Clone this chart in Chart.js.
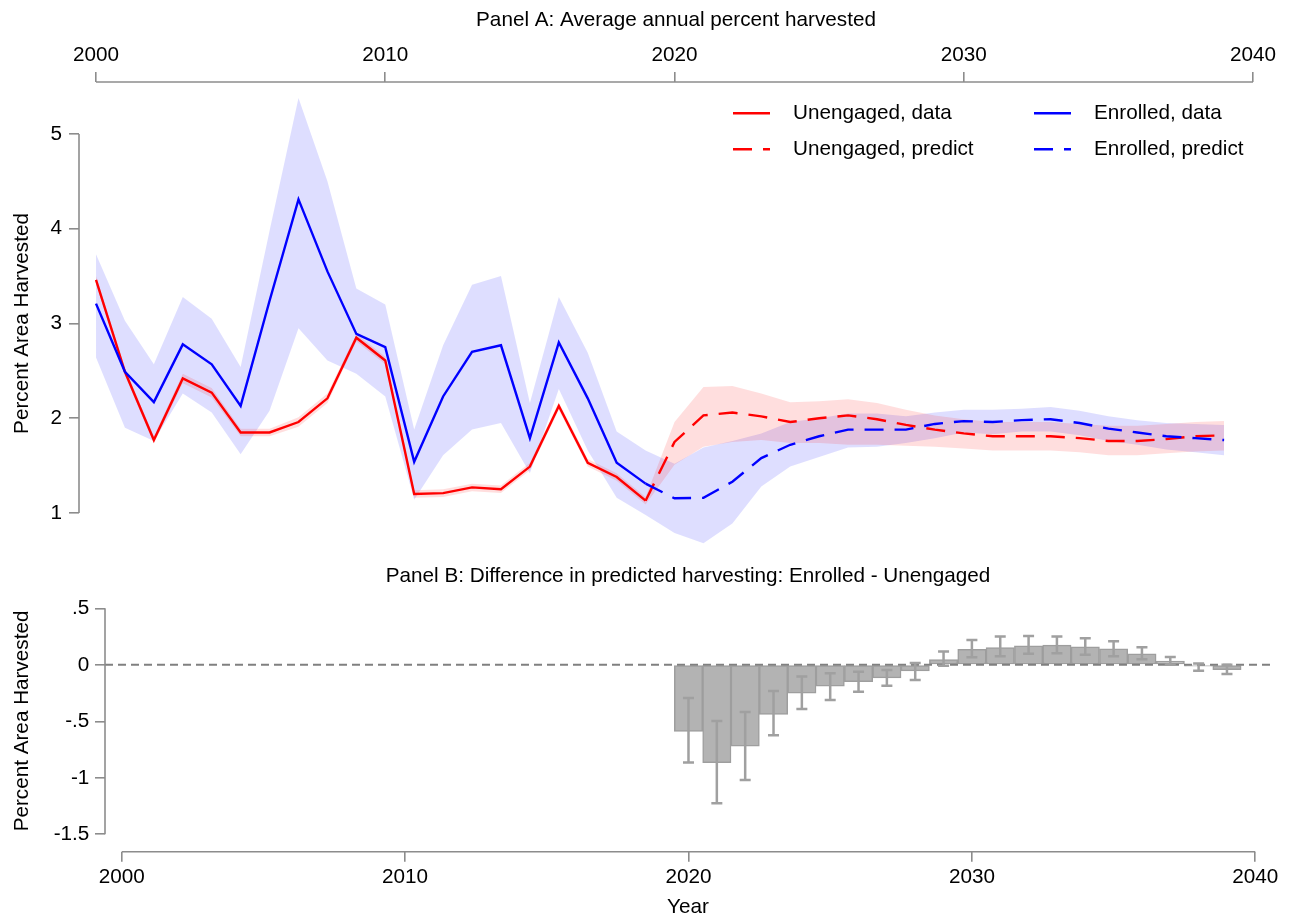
<!DOCTYPE html>
<html>
<head>
<meta charset="utf-8">
<title>Percent area harvested: enrolled vs unengaged</title>
<script src="https://cdn.jsdelivr.net/npm/chart.js@4.4.1/dist/chart.umd.min.js"></script>
<style>
  html, body { margin: 0; padding: 0; background: #fff; overflow: hidden; }
  #wrap { position: relative; width: 1291px; height: 921px; }
  #panelA { position: absolute; left: 0; top: 0; }
  #panelB { position: absolute; left: 0; top: 555px; }
</style>
</head>
<body>
<div id="wrap">
  <canvas id="panelA" width="1291" height="565"></canvas>
  <canvas id="panelB" width="1291" height="366"></canvas>
</div>
<script>
// ---------------- data ----------------
const dataYears = [2000, 2001, 2002, 2003, 2004, 2005, 2006, 2007, 2008, 2009,
                   2010, 2011, 2012, 2013, 2014, 2015, 2016, 2017, 2018, 2019];
const predYears = [2019, 2020, 2021, 2022, 2023, 2024, 2025, 2026, 2027, 2028, 2029,
                   2030, 2031, 2032, 2033, 2034, 2035, 2036, 2037, 2038, 2039];
const bandYears = [2000, 2001, 2002, 2003, 2004, 2005, 2006, 2007, 2008, 2009,
                   2010, 2011, 2012, 2013, 2014, 2015, 2016, 2017, 2018, 2019,
                   2020, 2021, 2022, 2023, 2024, 2025, 2026, 2027, 2028, 2029,
                   2030, 2031, 2032, 2033, 2034, 2035, 2036, 2037, 2038, 2039];
const diffYears = [2020, 2021, 2022, 2023, 2024, 2025, 2026, 2027, 2028, 2029,
                   2030, 2031, 2032, 2033, 2034, 2035, 2036, 2037, 2038, 2039];

// Panel A: observed series
const unengagedData = [3.46, 2.49, 1.77, 2.42, 2.27, 1.85, 1.85, 1.96, 2.21, 2.85,
                       2.61, 1.20, 1.21, 1.27, 1.25, 1.49, 2.13, 1.53, 1.38, 1.13];
const enrolledData  = [3.21, 2.49, 2.17, 2.78, 2.57, 2.13, 3.24, 4.31, 3.55, 2.89,
                       2.75, 1.54, 2.23, 2.70, 2.77, 1.79, 2.80, 2.21, 1.53, 1.31];

// Panel A: predicted series
const unengagedPredict = [1.13, 1.75, 2.03, 2.06, 2.02, 1.96, 2.00, 2.03, 1.99, 1.93, 1.88,
                          1.84, 1.81, 1.81, 1.81, 1.79, 1.76, 1.76, 1.78, 1.81, 1.82];
const enrolledPredict  = [1.31, 1.155, 1.16, 1.33, 1.58, 1.72, 1.81, 1.88, 1.88, 1.88, 1.94,
                          1.97, 1.96, 1.98, 1.99, 1.95, 1.89, 1.85, 1.81, 1.79, 1.77];

// Panel A: confidence bands
const enrolledUpper  = [3.73, 3.03, 2.57, 3.28, 3.05, 2.54, 3.98, 5.38, 4.50, 3.37,
                        3.20, 1.88, 2.77, 3.41, 3.50, 2.16, 3.28, 2.69, 1.86, 1.66,
                        1.52, 1.69, 1.76, 1.84, 1.96, 2.00, 2.05, 2.05, 2.02, 2.06,
                        2.09, 2.09, 2.10, 2.12, 2.08, 2.02, 1.98, 1.95, 1.94, 1.93];
const enrolledLower  = [2.64, 1.90, 1.76, 2.26, 2.06, 1.62, 2.08, 2.95, 2.61, 2.47,
                        2.23, 1.14, 1.61, 1.88, 1.95, 1.42, 2.31, 1.66, 1.16, 0.98,
                        0.79, 0.68, 0.89, 1.28, 1.49, 1.59, 1.69, 1.70, 1.74, 1.79,
                        1.85, 1.83, 1.86, 1.86, 1.82, 1.76, 1.72, 1.67, 1.64, 1.61];
const unengagedUpper = [3.50, 2.53, 1.81, 2.47, 2.32, 1.89, 1.89, 2.01, 2.26, 2.89,
                        2.65, 1.24, 1.25, 1.31, 1.29, 1.53, 2.17, 1.57, 1.42, 1.17,
                        1.96, 2.33, 2.34, 2.26, 2.17, 2.18, 2.20, 2.16, 2.09, 2.03,
                        1.99, 1.96, 1.96, 1.96, 1.94, 1.92, 1.92, 1.94, 1.96, 1.97];
const unengagedLower = [3.42, 2.45, 1.73, 2.37, 2.22, 1.81, 1.81, 1.91, 2.16, 2.81,
                        2.57, 1.16, 1.17, 1.23, 1.21, 1.45, 2.09, 1.49, 1.34, 1.09,
                        1.51, 1.70, 1.75, 1.77, 1.74, 1.74, 1.72, 1.72, 1.71, 1.70,
                        1.68, 1.66, 1.66, 1.66, 1.64, 1.61, 1.61, 1.63, 1.65, 1.66];

// Panel B: difference (Enrolled - Unengaged) with interval
const diffValue = [-0.59, -0.865, -0.72, -0.44, -0.25, -0.19, -0.15, -0.115, -0.053, 0.047,
                   0.138, 0.153, 0.168, 0.174, 0.159, 0.141, 0.097, 0.032, -0.012, -0.044];
const diffLow   = [-0.865, -1.226, -1.02, -0.624, -0.391, -0.312, -0.238, -0.185, -0.135, -0.009,
                   0.068, 0.076, 0.097, 0.103, 0.088, 0.076, 0.050, 0.000, -0.053, -0.082];
const diffHigh  = [-0.294, -0.497, -0.418, -0.232, -0.103, -0.074, -0.062, -0.047, 0.015, 0.118,
                   0.220, 0.250, 0.256, 0.250, 0.235, 0.209, 0.156, 0.070, 0.012, 0.000];

// Tick labels
const yearTicks   = [2000, 2010, 2020, 2030, 2040];
const panelATicks = [1, 2, 3, 4, 5];
const panelBTicks = [0.5, 0, -0.5, -1, -1.5];

// ---------------- styling ----------------
const FONT = { family: "'Liberation Sans', Arial, Helvetica, sans-serif", size: 20.7 };
const TEXT = '#000';
const AXIS_GRAY = '#8c8c8c';
const RED = '#ff0000';
const BLUE = '#0000ff';
const DASH = [19, 11];

Chart.defaults.font.family = FONT.family;
Chart.defaults.font.size = FONT.size;
Chart.defaults.color = TEXT;
Chart.defaults.animation = false;

const pts = (xs, ys) => xs.map((x, i) => ({ x, y: ys[i] }));
const fixedTicks = values => scale => { scale.ticks = values.map(v => ({ value: v })); };
const stataNum = v => String(v).replace(/^(-?)0\./, '$1.');

// Fixed axis box size; tick labels sit well inside the plot range, so no extra edge padding
const fitBox = (prop, size) => s => {
  s[prop] = size;
  s.paddingTop = 0; s.paddingBottom = 0;
  s.paddingLeft = 0; s.paddingRight = 0;
};

function axisOpts(extra) {
  return Object.assign({
    type: 'linear',
    border: { display: false },
    grid: { offset: false, drawOnChartArea: false, drawTicks: true, tickLength: 10, color: AXIS_GRAY, lineWidth: 1.6 },
  }, extra);
}

// Axis lines that only span the labelled range (first to last tick)
const rangeAxes = {
  id: 'rangeAxes',
  afterDraw(chart) {
    const { ctx, chartArea: a } = chart;
    ctx.save();
    ctx.strokeStyle = AXIS_GRAY;
    ctx.lineWidth = 1.6;
    Object.values(chart.scales).forEach(s => {
      const vals = s.ticks.map(t => t.value);
      const p0 = s.getPixelForValue(Math.min(...vals));
      const p1 = s.getPixelForValue(Math.max(...vals));
      ctx.beginPath();
      if (s.isHorizontal()) {
        const y = s.position === 'top' ? a.top : a.bottom;
        ctx.moveTo(p0, y); ctx.lineTo(p1, y);
      } else {
        ctx.moveTo(a.left, p0); ctx.lineTo(a.left, p1);
      }
      ctx.stroke();
    });
    ctx.restore();
  }
};

// Two-column legend drawn inside the plot area of panel A
const insideLegend = {
  id: 'insideLegend',
  afterDraw(chart, args, opts) {
    const { ctx } = chart;
    ctx.save();
    ctx.font = `${FONT.size}px ${FONT.family}`;
    ctx.textBaseline = 'middle';
    ctx.textAlign = 'left';
    opts.items.forEach((it, k) => {
      const ds = chart.data.datasets[it.dataset];
      const col = k % 2, row = Math.floor(k / 2);
      const x = opts.x + col * opts.colWidth;
      const y = opts.y + row * opts.rowHeight;
      ctx.strokeStyle = ds.borderColor;
      ctx.lineWidth = ds.borderWidth;
      ctx.setLineDash(ds.borderDash || []);
      ctx.beginPath();
      ctx.moveTo(x, y); ctx.lineTo(x + opts.sampleLength, y);
      ctx.stroke();
      ctx.setLineDash([]);
      ctx.fillStyle = TEXT;
      ctx.fillText(ds.label, x + opts.textOffset, y);
    });
    ctx.restore();
  }
};

// Panel B: dashed zero reference line and capped interval bars
const diffDecor = {
  id: 'diffDecor',
  afterDatasetsDraw(chart) {
    const { ctx, chartArea: a } = chart;
    const ys = chart.scales.y;
    const y0 = ys.getPixelForValue(0);
    ctx.save();
    ctx.strokeStyle = '#808080';
    ctx.lineWidth = 2;
    ctx.setLineDash([8, 5]);
    ctx.beginPath();
    ctx.moveTo(a.left, y0); ctx.lineTo(a.right, y0);
    ctx.stroke();
    ctx.setLineDash([]);
    ctx.strokeStyle = '#a0a0a0';
    ctx.lineWidth = 2.5;
    const meta = chart.getDatasetMeta(0);
    meta.data.forEach((bar, i) => {
      const lo = ys.getPixelForValue(diffLow[i]);
      const hi = ys.getPixelForValue(diffHigh[i]);
      const cap = 5.5;
      ctx.beginPath();
      ctx.moveTo(bar.x, lo); ctx.lineTo(bar.x, hi);
      ctx.moveTo(bar.x - cap, lo); ctx.lineTo(bar.x + cap, lo);
      ctx.moveTo(bar.x - cap, hi); ctx.lineTo(bar.x + cap, hi);
      ctx.stroke();
    });
    ctx.restore();
  }
};

const band = (label, ys, color, fill, order) => ({
  label, data: pts(bandYears, ys), borderWidth: 0, pointRadius: 0,
  backgroundColor: color, fill, order, tension: 0
});
const line = (label, xs, ys, color, dash, order) => ({
  label, data: pts(xs, ys), borderColor: color, borderWidth: 2.4, borderDash: dash,
  pointRadius: 0, fill: false, order, tension: 0
});

// ---------------- Panel A ----------------
new Chart(document.getElementById('panelA'), {
  type: 'line',
  data: {
    datasets: [
      band('Enrolled, interval', enrolledUpper, 'rgba(0,0,255,0.13)', '+1', 10),
      band('Enrolled, interval low', enrolledLower, 'rgba(0,0,0,0)', false, 10),
      band('Unengaged, interval', unengagedUpper, 'rgba(255,0,0,0.13)', '+1', 9),
      band('Unengaged, interval low', unengagedLower, 'rgba(0,0,0,0)', false, 9),
      line('Unengaged, data', dataYears, unengagedData, RED, [], 4),
      line('Enrolled, data', dataYears, enrolledData, BLUE, [], 3),
      line('Unengaged, predict', predYears, unengagedPredict, RED, DASH, 2),
      line('Enrolled, predict', predYears, enrolledPredict, BLUE, DASH, 1)
    ]
  },
  options: {
    responsive: false,
    layout: { padding: { left: 0, right: 18, top: 0, bottom: 0 } },
    events: [],
    scales: {
      x: axisOpts({
        position: 'top', min: 1999.412, max: 2040.69,
        afterBuildTicks: fixedTicks(yearTicks),
        afterFit: fitBox('height', 43.16),
        ticks: { padding: 4, maxRotation: 0, autoSkip: false, callback: v => String(v), color: TEXT }
      }),
      y: axisOpts({
        min: 0.4512, max: 5.5488,
        afterBuildTicks: fixedTicks(panelATicks),
        afterFit: fitBox('width', 79),
        ticks: { padding: 7, autoSkip: false, callback: v => String(v), color: TEXT },
        title: { display: true, text: 'Percent Area Harvested', color: TEXT, padding: { top: 10, bottom: 0 } }
      })
    },
    plugins: {
      legend: { display: false },
      tooltip: { enabled: false },
      title: {
        display: true, text: 'Panel A: Average annual percent harvested',
        fullSize: false, color: TEXT, font: { weight: 'normal' },
        padding: { top: 8, bottom: 6 }
      },
      insideLegend: {
        items: [{ dataset: 4 }, { dataset: 5 }, { dataset: 6 }, { dataset: 7 }],
        x: 733, y: 113.3, colWidth: 301, rowHeight: 36,
        sampleLength: 37, textOffset: 60
      }
    }
  },
  plugins: [rangeAxes, insideLegend]
});

// ---------------- Panel B ----------------
new Chart(document.getElementById('panelB'), {
  type: 'bar',
  data: {
    datasets: [{
      label: 'Enrolled - Unengaged',
      data: pts(diffYears, diffValue),
      backgroundColor: '#b3b3b3',
      borderColor: '#9e9e9e',
      borderWidth: 1.5,
      borderSkipped: false,
      barPercentage: 1,
      categoryPercentage: 1
    }]
  },
  options: {
    responsive: false,
    layout: { padding: { left: 0, right: 20, top: 0, bottom: 0 } },
    events: [],
    scales: {
      x: axisOpts({
        position: 'bottom', min: 1999.411, max: 2040.554, offset: false,
        afterBuildTicks: fixedTicks(yearTicks),
        afterFit: fitBox('height', 69.3),
        ticks: { padding: 2.7, maxRotation: 0, autoSkip: false, callback: v => String(v), color: TEXT },
        title: { display: true, text: 'Year', color: TEXT, padding: { top: 0, bottom: 1 } }
      }),
      y: axisOpts({
        min: -1.654, max: 0.66,
        afterBuildTicks: fixedTicks(panelBTicks),
        afterFit: fitBox('width', 105),
        ticks: { padding: 5.7, autoSkip: false, callback: v => stataNum(v), color: TEXT },
        title: { display: true, text: 'Percent Area Harvested', color: TEXT, padding: { top: 10, bottom: 0 } }
      })
    },
    plugins: {
      legend: { display: false },
      tooltip: { enabled: false },
      title: {
        display: true, text: 'Panel B: Difference in predicted harvesting: Enrolled - Unengaged',
        fullSize: false, color: TEXT, font: { weight: 'normal' },
        padding: { top: 8.7, bottom: 1.7 }
      }
    }
  },
  plugins: [rangeAxes, diffDecor]
});
</script>
</body>
</html>
